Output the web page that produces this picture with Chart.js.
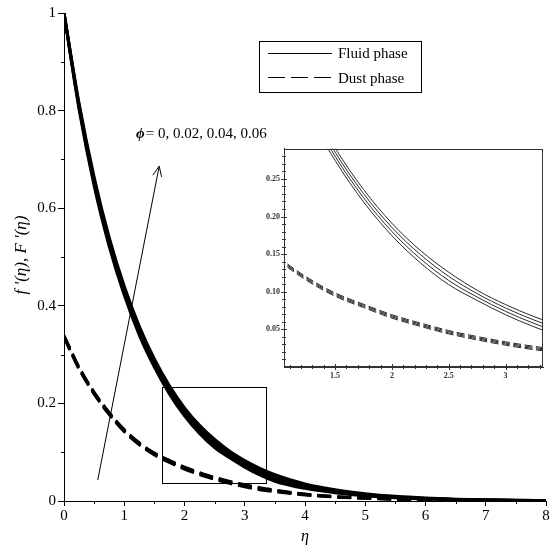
<!DOCTYPE html>
<html><head><meta charset="utf-8">
<script src="https://cdn.jsdelivr.net/npm/chart.js@4.4.1/dist/chart.umd.min.js"></script>
<style>
html,body{margin:0;padding:0;background:#fff;}
#wrap{position:relative;width:553px;height:551px;overflow:hidden;}
#main{position:absolute;left:0;top:0;}
#inset{position:absolute;left:250px;top:140px;}
</style></head><body>
<div id="wrap"><canvas id="main" width="553" height="551"></canvas><canvas id="inset" width="303" height="245"></canvas></div>
<script>
// ---- data ----
const eta = [0, 0.25, 0.5, 0.75, 1, 1.25, 1.5, 1.75, 2, 2.25, 2.5, 2.75, 3, 3.25, 3.5, 4, 4.5, 5, 5.5, 6, 6.5, 7, 7.5, 8];
const phiValues = [0, 0.02, 0.04, 0.06];
// Fluid phase f'(eta)
const fluidPhi000 = [1, 0.803, 0.646, 0.522, 0.422, 0.340, 0.2745, 0.2195, 0.1745, 0.1385, 0.1095, 0.0885, 0.0695, 0.0535, 0.0405, 0.026, 0.017, 0.0105, 0.0065, 0.0040, 0.0025, 0.0015, 0.0009, 0.0006];
const fluidPhi002 = [1, 0.807, 0.652, 0.528, 0.428, 0.346, 0.2800, 0.2250, 0.1800, 0.1440, 0.1150, 0.0930, 0.0740, 0.0580, 0.0450, 0.029, 0.019, 0.0120, 0.0075, 0.0047, 0.0029, 0.0018, 0.0011, 0.0007];
const fluidPhi004 = [1, 0.811, 0.658, 0.534, 0.434, 0.352, 0.2855, 0.2305, 0.1855, 0.1495, 0.1205, 0.0975, 0.0785, 0.0625, 0.0495, 0.032, 0.021, 0.0135, 0.0085, 0.0053, 0.0033, 0.0021, 0.0013, 0.0008];
const fluidPhi006 = [1, 0.815, 0.664, 0.540, 0.440, 0.358, 0.2910, 0.2360, 0.1910, 0.1550, 0.1260, 0.1020, 0.0830, 0.0670, 0.0540, 0.035, 0.023, 0.0150, 0.0095, 0.0060, 0.0038, 0.0024, 0.0015, 0.0010];
// Dust phase F'(eta)
const dustPhi000 = [0.3350, 0.2700, 0.2190, 0.1770, 0.1420, 0.1150, 0.0940, 0.0790, 0.0650, 0.0540, 0.0440, 0.0360, 0.0290, 0.0230, 0.0190, 0.0123, 0.0079, 0.0053, 0.0035, 0.0023, 0.0015, 0.0009, 0.0006, 0.0004];
const dustPhi002 = [0.3365, 0.2715, 0.2205, 0.1785, 0.1435, 0.1165, 0.0955, 0.0805, 0.0665, 0.0555, 0.0455, 0.0375, 0.0305, 0.0245, 0.0202, 0.0130, 0.0084, 0.0056, 0.0037, 0.0024, 0.0016, 0.0010, 0.0006, 0.0004];
const dustPhi004 = [0.3380, 0.2730, 0.2220, 0.1800, 0.1450, 0.1180, 0.0970, 0.0820, 0.0680, 0.0570, 0.0470, 0.0390, 0.0320, 0.0260, 0.0214, 0.0137, 0.0089, 0.0059, 0.0039, 0.0025, 0.0017, 0.0011, 0.0007, 0.0005];
const dustPhi006 = [0.3395, 0.2745, 0.2235, 0.1815, 0.1465, 0.1195, 0.0985, 0.0835, 0.0695, 0.0585, 0.0485, 0.0405, 0.0335, 0.0275, 0.0226, 0.0144, 0.0093, 0.0062, 0.0041, 0.0027, 0.0018, 0.0011, 0.0007, 0.0005];

const mainXTicks = [0, 1, 2, 3, 4, 5, 6, 7, 8];
const mainXLabels = ['0', '1', '2', '3', '4', '5', '6', '7', '8'];
const mainYTicks = [0, 0.2, 0.4, 0.6, 0.8, 1];
const mainYLabels = ['0', '0.2', '0.4', '0.6', '0.8', '1'];
const insetXTicks = [1.5, 2, 2.5, 3];
const insetXLabels = ['1.5', '2', '2.5', '3'];
const insetYTicks = [0.05, 0.10, 0.15, 0.20, 0.25];
const insetYLabels = ['0.05', '0.10', '0.15', '0.20', '0.25'];

const legendLabels = ['Fluid phase', 'Dust phase'];
const annotationText = '= 0, 0.02, 0.04, 0.06';
const zoomBox = {x0: 1.62, x1: 3.34, y0: 0.036, y1: 0.233};
const arrowFrom = {x: 0.56, y: 0.043};
const arrowTo = {x: 1.58, y: 0.686};
const insetRange = {xmin: 1.05, xmax: 3.33, ymin: 0, ymax: 0.29};

// ---- drawing ----
const serif = '"Liberation Serif","Times New Roman",serif';
const fluidSets = [fluidPhi000, fluidPhi002, fluidPhi004, fluidPhi006];
const dustSets = [dustPhi000, dustPhi002, dustPhi004, dustPhi006];

function mk(ys, phi, kind, width, dash, color) {
  return {
    label: kind + ' phi=' + phi,
    data: eta.map((x, i) => ({x: x, y: ys[i]})),
    borderColor: color, borderWidth: width, borderDash: dash,
    pointRadius: 0, fill: false, cubicInterpolationMode: 'monotone'
  };
}

function fixTicks(values) {
  return function (s) { s.ticks = values.map(v => ({value: v})); };
}

const mainDatasets = [];
fluidSets.forEach((ys, k) => mainDatasets.push(mk(ys, phiValues[k], 'Fluid', 3, [], '#000')));
dustSets.forEach((ys, k) => mainDatasets.push(mk(ys, phiValues[k], 'Dust', 2.8, [14, 6], '#000')));

const mainPlugin = {
  id: 'mainExtras',
  afterDraw(chart) {
    const ctx = chart.ctx, xs = chart.scales.x, ys = chart.scales.y, a = chart.chartArea;
    ctx.save();
    ctx.strokeStyle = '#000'; ctx.fillStyle = '#000'; ctx.lineWidth = 1;
    // minor ticks
    ctx.beginPath();
    for (let v = 0.5; v < 8; v += 1) {
      const px = Math.round(xs.getPixelForValue(v)) + 0.5;
      ctx.moveTo(px, a.bottom); ctx.lineTo(px, a.bottom + 3);
    }
    for (let v = 0.1; v < 1; v += 0.2) {
      const py = Math.round(ys.getPixelForValue(v)) + 0.5;
      ctx.moveTo(a.left, py); ctx.lineTo(a.left - 3, py);
    }
    ctx.stroke();
    // zoom rectangle
    const rx0 = xs.getPixelForValue(zoomBox.x0), rx1 = xs.getPixelForValue(zoomBox.x1);
    const ry0 = ys.getPixelForValue(zoomBox.y0), ry1 = ys.getPixelForValue(zoomBox.y1);
    ctx.strokeRect(Math.round(rx0) + 0.5, Math.round(ry1) + 0.5, Math.round(rx1 - rx0), Math.round(ry0 - ry1));
    // arrow
    const ax0 = xs.getPixelForValue(arrowFrom.x), ay0 = ys.getPixelForValue(arrowFrom.y);
    const ax1 = xs.getPixelForValue(arrowTo.x), ay1 = ys.getPixelForValue(arrowTo.y);
    ctx.beginPath(); ctx.moveTo(ax0, ay0); ctx.lineTo(ax1, ay1); ctx.stroke();
    const ang = Math.atan2(ay1 - ay0, ax1 - ax0), hl = 11, ha = 0.42;
    ctx.beginPath();
    ctx.moveTo(ax1 - hl * Math.cos(ang - ha), ay1 - hl * Math.sin(ang - ha));
    ctx.lineTo(ax1, ay1);
    ctx.lineTo(ax1 - hl * Math.cos(ang + ha), ay1 - hl * Math.sin(ang + ha));
    ctx.stroke();
    // annotation text
    ctx.textBaseline = 'alphabetic'; ctx.textAlign = 'left';
    ctx.font = 'italic bold 15px ' + serif;
    ctx.fillText('\u03D5', 136, 138);
    const pw = ctx.measureText('\u03D5').width;
    ctx.font = '15px ' + serif;
    ctx.fillText(annotationText, 136 + pw + 1, 138);
    // legend
    ctx.strokeRect(259.5, 41.5, 162, 51);
    ctx.beginPath(); ctx.moveTo(268, 53.5); ctx.lineTo(332, 53.5); ctx.stroke();
    ctx.setLineDash([17, 6]);
    ctx.beginPath(); ctx.moveTo(268, 77.5); ctx.lineTo(332, 77.5); ctx.stroke();
    ctx.setLineDash([]);
    ctx.font = '15px ' + serif;
    ctx.fillText(legendLabels[0], 338, 58);
    ctx.fillText(legendLabels[1], 338, 82.5);
    // axis titles
    ctx.font = 'italic 16px ' + serif;
    ctx.textAlign = 'center';
    ctx.fillText('\u03B7', (a.left + a.right) / 2, 541);
    ctx.save();
    ctx.translate(26, 255);
    ctx.rotate(-Math.PI / 2);
    ctx.font = 'italic 17px ' + serif;
    ctx.fillText("f '(\u03B7), F '(\u03B7)", 0, 0);
    ctx.restore();
    ctx.restore();
  }
};

new Chart(document.getElementById('main'), {
  type: 'line',
  data: {datasets: mainDatasets},
  options: {
    responsive: false, animation: false, devicePixelRatio: 1,
    layout: {padding: {top: 13, right: 7, left: 0, bottom: 0}},
    plugins: {legend: {display: false}, tooltip: {enabled: false}},
    scales: {
      x: {
        type: 'linear', min: 0, max: 8,
        afterBuildTicks: fixTicks(mainXTicks),
        afterFit(s) { s.height = 50; },
        ticks: {callback: (v, i) => mainXLabels[i], font: {family: serif, size: 15}, color: '#000', padding: 1, maxRotation: 0, autoSkip: false},
        grid: {drawOnChartArea: false, drawTicks: true, tickLength: 5, tickColor: '#000', tickWidth: 1},
        border: {display: true, color: '#000', width: 1}
      },
      y: {
        type: 'linear', min: 0, max: 1,
        afterBuildTicks: fixTicks(mainYTicks),
        afterFit(s) { s.width = 64; },
        ticks: {callback: (v, i) => mainYLabels[i], font: {family: serif, size: 15}, color: '#000', padding: 2, autoSkip: false},
        grid: {drawOnChartArea: false, drawTicks: true, tickLength: 6, tickColor: '#000', tickWidth: 1},
        border: {display: true, color: '#000', width: 1}
      }
    }
  },
  plugins: [mainPlugin]
});

// ---- inset ----
const insetDatasets = [];
fluidSets.forEach((ys, k) => insetDatasets.push(mk(ys, phiValues[k], 'Fluid', 1, [], '#2a2a2a')));
dustSets.forEach((ys, k) => insetDatasets.push(mk(ys, phiValues[k], 'Dust', 1, [8, 3.5], '#2a2a2a')));

const insetPlugin = {
  id: 'insetExtras',
  beforeDraw(chart) {
    const ctx = chart.ctx;
    ctx.save(); ctx.fillStyle = '#fff'; ctx.fillRect(0, 0, chart.width, chart.height); ctx.restore();
  },
  afterDraw(chart) {
    const ctx = chart.ctx, xs = chart.scales.x, ys = chart.scales.y, a = chart.chartArea;
    ctx.save();
    ctx.strokeStyle = '#333'; ctx.lineWidth = 1;
    ctx.strokeRect(Math.round(a.left) + 0.5, Math.round(a.top) + 0.5, Math.round(a.right - a.left) - 1, Math.round(a.bottom - a.top) - 1);
    ctx.beginPath();
    for (let k = 11; k <= 33; k++) {
      const v = k / 10;
      const px = Math.round(xs.getPixelForValue(v)) + 0.5;
      const big = (k % 5 === 0) ? 3 : 2;
      ctx.moveTo(px, a.bottom - big); ctx.lineTo(px, a.bottom + big);
    }
    for (let k = 1; k <= 28; k++) {
      const v = k / 100;
      const py = Math.round(ys.getPixelForValue(v)) + 0.5;
      const big = (k % 5 === 0) ? 3 : 2;
      ctx.moveTo(a.left - big, py); ctx.lineTo(a.left + big, py);
    }
    ctx.stroke();
    ctx.restore();
  }
};

new Chart(document.getElementById('inset'), {
  type: 'line',
  data: {datasets: insetDatasets},
  options: {
    responsive: false, animation: false, devicePixelRatio: 1,
    layout: {padding: {top: 8, right: 10, left: 0, bottom: 0}},
    plugins: {legend: {display: false}, tooltip: {enabled: false}},
    scales: {
      x: {
        type: 'linear', min: insetRange.xmin, max: insetRange.xmax,
        afterBuildTicks: fixTicks(insetXTicks),
        afterFit(s) { s.height = 18; },
        ticks: {callback: (v, i) => insetXLabels[i], font: {family: serif, size: 8, weight: 'bold'}, color: '#333', padding: 4, maxRotation: 0, autoSkip: false},
        grid: {drawOnChartArea: false, drawTicks: false},
        border: {display: true, color: '#333', width: 1}
      },
      y: {
        type: 'linear', min: insetRange.ymin, max: insetRange.ymax,
        afterBuildTicks: fixTicks(insetYTicks),
        afterFit(s) { s.width = 34; },
        ticks: {callback: (v, i) => insetYLabels[i], font: {family: serif, size: 8, weight: 'bold'}, color: '#333', padding: 4, autoSkip: false},
        grid: {drawOnChartArea: false, drawTicks: false},
        border: {display: true, color: '#333', width: 1}
      }
    }
  },
  plugins: [insetPlugin]
});
</script>
</body></html>
